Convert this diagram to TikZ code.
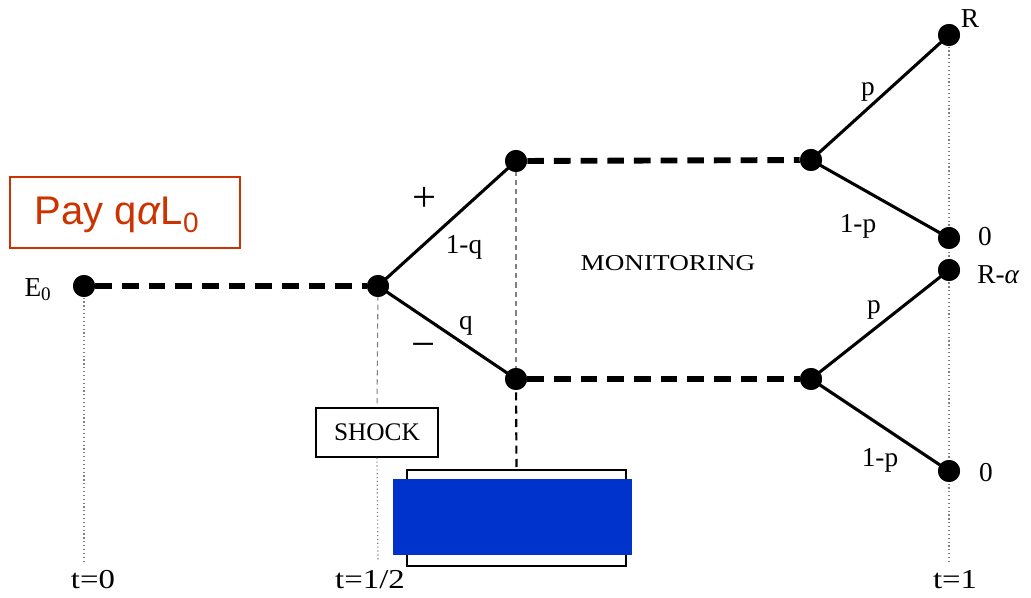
\documentclass[tikz,border=0pt]{standalone}
\usepackage{fontspec}
\setmainfont{Liberation Serif}
\newfontfamily\sansf{Liberation Sans}
\newfontfamily\widef[FakeStretch=1.2]{Liberation Serif}
\definecolor{payred}{RGB}{204,51,0}
\definecolor{boxblue}{RGB}{0,51,204}
\begin{document}
\begin{tikzpicture}[x=0.75pt,y=-0.75pt,
  dot/.style={circle,fill=black,inner sep=0pt,minimum size=16.5pt},
  thickdash/.style={line width=4.4pt,dash pattern=on 12.5pt off 7.5pt},
  branch/.style={line width=2.3pt},
  guide/.style={gray,line width=0.9pt,dotted},
  thindash/.style={gray,line width=0.8pt,dash pattern=on 4pt off 3pt},
  lab/.style={font=\fontsize{20.5}{24}\selectfont,inner sep=0pt}]
\useasboundingbox (0,0) rectangle (1031,598);
% dots
\node[dot] (e0) at (84,286) {};
\node[dot] (s) at (378,286) {};
\node[dot] (u) at (516,161) {};
\node[dot] (d) at (516,379) {};
\node[dot] (ur) at (811,160) {};
\node[dot] (dr) at (811,379) {};
\node[dot] (R) at (949,35) {};
\node[dot] (z1) at (949,238) {};
\node[dot] (Ra) at (949,270) {};
\node[dot] (z2) at (949,471) {};
% boxes
\node[draw,line width=1pt,minimum width=91.5pt,minimum height=36.75pt,inner sep=0pt,font=\fontsize{19}{22}\selectfont] (shock) at (377,432.5) {SHOCK};
\node[draw,line width=1pt,fill=white,minimum width=164.25pt,minimum height=72pt,inner sep=0pt] (wbox) at (516.5,518) {};
\node[fill=boxblue,minimum width=179.25pt,minimum height=57pt,inner sep=0pt] (blue) at (512.5,517) {};
\node[draw=payred,line width=1.1pt,minimum width=172.5pt,minimum height=53.25pt,inner sep=0pt] (pay) at (125,212.5) {};
\node[text=payred,font=\sansf\fontsize{30}{34}\selectfont,inner sep=0pt] (paytxt) at (117,215) {Pay q\textit{α}L\textsubscript{0}};
% guides
\coordinate (g0) at (84,562);
\coordinate (gh) at (378,562);
\coordinate (g1) at (949,562);
\draw[guide] (e0.center) -- (g0);
\draw[thindash] (s.center) -- (shock.north);
\draw[guide] (shock.south) -- (gh);
\draw[thindash] (u.center) -- (d.center);
\draw[black,line width=1.6pt,dash pattern=on 6pt off 4pt] (d.center) -- (wbox.north);
\draw[guide] (R.center) -- (g1);
% thick dashed
\draw[thickdash] (e0) -- (s);
\draw[thickdash] (u) -- (ur);
\draw[thickdash] (d) -- (dr);
% branches
\draw[branch] (s.center) -- (u.center);
\draw[branch] (s.center) -- (d.center);
\draw[branch] (ur.center) -- (R.center);
\draw[branch] (ur.center) -- (z1.center);
\draw[branch] (dr.center) -- (Ra.center);
\draw[branch] (dr.center) -- (z2.center);
% redraw dots on top
\foreach \n in {e0,s,u,d,ur,dr,R,z1,Ra,z2} \fill (\n) circle (11);
% labels
\node[lab] (le0) at (38,290) {E\textsubscript{0}};
\node[lab,font=\fontsize{32}{34}\selectfont] (plus) at (425,199) {+};
\node[lab,font=\fontsize{32}{34}\selectfont] (minus) at (424,351) {−};
\node[lab] (l1q) at (464,247) {1-q};
\node[lab] (lq) at (466,326) {q};
\node[lab,font=\widef\fontsize{17}{20}\selectfont] (mon) at (668,263) {MONITORING};
\node[lab] (lp1) at (868,92) {p};
\node[lab] (l1p1) at (858,226) {1-p};
\node[lab] (lp2) at (874,310) {p};
\node[lab] (l1p2) at (880,460) {1-p};
\node[lab] (lR) at (970,19) {R};
\node[lab] (lz1) at (985,237) {0};
\node[lab,anchor=west] (lRa) at (977,275) {R-\textit{α}};
\node[lab] (lz2) at (986,473) {0};
\node[lab,font=\widef\fontsize{20.5}{24}\selectfont] (t0) at (93,580) {t=0};
\node[lab,font=\widef\fontsize{20.5}{24}\selectfont] (th) at (370,580) {t=1/2};
\node[lab,font=\widef\fontsize{20.5}{24}\selectfont] (t1) at (955,580) {t=1};
\end{tikzpicture}
\end{document}
